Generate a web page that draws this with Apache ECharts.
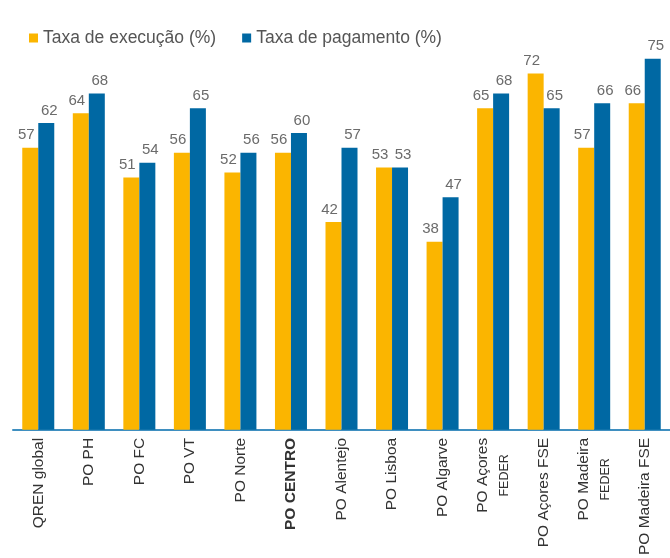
<!DOCTYPE html>
<html>
<head>
<meta charset="utf-8">
<script src="https://cdn.jsdelivr.net/npm/echarts@6/dist/echarts.min.js"></script>
<style>
  html, body { margin: 0; padding: 0; background: #fff; }
  #chart { width: 670px; height: 558px; }
</style>
</head>
<body>
<div id="chart"></div>
<script>
const categories = ['QREN global', 'PO PH', 'PO FC', 'PO VT', 'PO Norte', 'PO CENTRO', 'PO Alentejo',
  'PO Lisboa', 'PO Algarve', 'PO Açores\nFEDER', 'PO Açores FSE', 'PO Madeira\nFEDER', 'PO Madeira FSE']
const execucao = [57, 64, 51, 56, 52, 56, 42, 53, 38, 65, 72, 57, 66]
const pagamento = [62, 68, 54, 65, 56, 60, 57, 53, 47, 68, 65, 66, 75]

const chart = echarts.init(document.getElementById('chart'))

const FONT = 'Liberation Sans'
const catSize = 15.5

// width of the first line, used to centre the small second line under it
const measure = document.createElement('canvas').getContext('2d')
measure.font = catSize + 'px ' + FONT
const lineWidth = (t) => Math.ceil(measure.measureText(t).width)

const rich = {
  b: { fontWeight: 'bold', fontSize: catSize, color: '#333', fontFamily: FONT }
}
categories.forEach((c, i) => {
  const parts = c.split('\n')
  if (parts.length > 1) {
    rich['s' + i] = { fontSize: 12.5, color: '#333', fontFamily: FONT, width: lineWidth(parts[0]), align: 'center', lineHeight: 20 }
  }
})

const valueLabel = (dx) => ({
  show: true,
  position: 'top',
  distance: 5,
  offset: [dx, 0],
  color: '#6b6b6b',
  fontSize: 15,
  fontFamily: FONT
})

chart.setOption({
  animation: false,
  legend: {
    left: 24,
    top: 24,
    itemWidth: 9,
    itemHeight: 9,
    itemGap: 26,
    icon: 'rect',
    textStyle: { color: '#555', fontSize: 17.5, fontFamily: FONT }
  },
  grid: { left: 13, right: -3, top: 34, bottom: 126 },
  xAxis: {
    type: 'category',
    data: categories,
    axisLine: { lineStyle: { color: '#3f8fc0', width: 2 } },
    axisTick: { show: false },
    axisLabel: {
      rotate: 90,
      interval: 0,
      margin: 8,
      color: '#333',
      fontSize: catSize,
      fontFamily: FONT,
      lineHeight: 22,
      formatter: (v, i) => {
        if (v === 'PO CENTRO') return '{b|' + v + '}'
        const parts = v.split('\n')
        if (parts.length > 1) return parts[0] + '\n{s' + i + '|' + parts[1] + '}'
        return v
      },
      rich: rich
    }
  },
  yAxis: {
    type: 'value',
    min: 0,
    max: 80,
    show: false,
    splitLine: { show: false }
  },
  series: [
    {
      name: 'Taxa de execução (%)',
      type: 'bar',
      data: execucao,
      barWidth: 16,
      barGap: '0%',
      itemStyle: { color: '#fbb500' },
      label: valueLabel(-4)
    },
    {
      name: 'Taxa de pagamento (%)',
      type: 'bar',
      data: pagamento,
      barWidth: 16,
      itemStyle: { color: '#0068a3' },
      label: valueLabel(3)
    }
  ]
})
</script>
</body>
</html>
